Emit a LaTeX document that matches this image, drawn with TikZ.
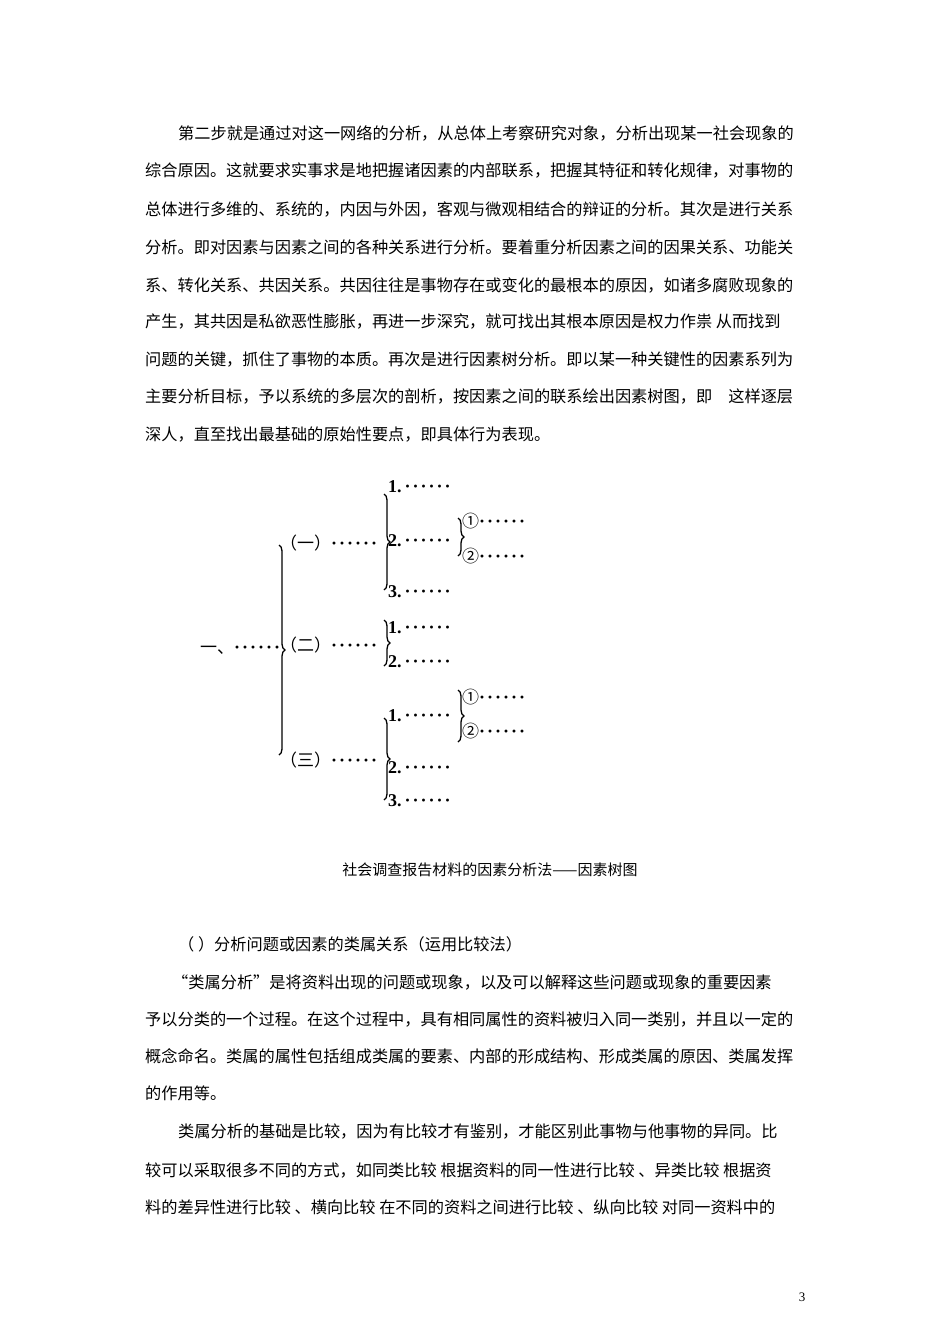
\documentclass[tikz,border=0pt]{standalone}
\usepackage{fontspec}
\setmainfont{Liberation Serif}
\newfontfamily\cjk{Noto Sans CJK SC}
\usetikzlibrary{decorations.pathreplacing}
\newcommand\dd{{\fontspec{Liberation Serif}\bfseries\fontsize{18}{18}\selectfont ·\kern2pt·\kern2pt·\kern2pt·\kern2pt·\kern2pt·}}
\begin{document}
\begin{tikzpicture}[x=1pt,y=-1pt,
  line/.style={anchor=west,inner sep=0pt,font=\cjk\fontsize{16.2}{18}\selectfont},
  tn/.style={anchor=west,inner sep=0pt,font=\cjk\fontsize{17}{18}\selectfont},
  num/.style={anchor=west,inner sep=0pt,font=\bfseries\fontsize{18}{18}\selectfont},
  br/.style={decorate,decoration={brace,amplitude=6pt,mirror},line width=1.3pt}]
\useasboundingbox (0,0) rectangle (950,1344);
\fill[white] (0,0) rectangle (950,1344);
% paragraph 1
\node[line] (p1) at (178,133) {第二步就是通过对这一网络的分析，从总体上考察研究对象，分析出现某一社会现象的};
\node[line] (p2) at (145,171) {综合原因。这就要求实事求是地把握诸因素的内部联系，把握其特征和转化规律，对事物的};
\node[line] (p3) at (145,209) {总体进行多维的、系统的，内因与外因，客观与微观相结合的辩证的分析。其次是进行关系};
\node[line] (p4) at (145,247) {分析。即对因素与因素之间的各种关系进行分析。要着重分析因素之间的因果关系、功能关};
\node[line] (p5) at (145,285) {系、转化关系、共因关系。共因往往是事物存在或变化的最根本的原因，如诸多腐败现象的};
\node[line] (p6) at (145,322) {产生，其共因是私欲恶性膨胀，再进一步深究，就可找出其根本原因是权力作祟\ 从而找到};
\node[line] (p7) at (145,360) {问题的关键，抓住了事物的本质。再次是进行因素树分析。即以某一种关键性的因素系列为};
\node[line] (p8) at (145,397) {主要分析目标，予以系统的多层次的剖析，按因素之间的联系绘出因素树图，即\quad 这样逐层};
\node[line] (p9) at (145,435) {深人，直至找出最基础的原始性要点，即具体行为表现。};
% tree
\node[tn] (r) at (200,650) {一、\dd};
\node[tn] (a) at (280,543) {（一）\dd};
\node[tn] (b) at (280,645) {（二）\dd};
\node[tn] (c) at (280,760) {（三）\dd};
\draw[br] (279,755) -- (279,545);
\node[num] (a1) at (388,487) {1.\,\dd};
\node[num] (a2) at (388,541) {2.\,\dd};
\node[num] (a3) at (388,592) {3.\,\dd};
\draw[br] (384,590) -- (384,494);
\node[tn] (a21) at (462,521) {①\dd};
\node[tn] (a22) at (462,556) {②\dd};
\draw[br] (458,556) -- (458,518);
\node[num] (b1) at (388,628) {1.\,\dd};
\node[num] (b2) at (388,662) {2.\,\dd};
\draw[br] (384,666) -- (384,620);
\node[num] (c1) at (388,716) {1.\,\dd};
\node[num] (c2) at (388,768) {2.\,\dd};
\node[num] (c3) at (388,801) {3.\,\dd};
\draw[br] (384,800) -- (384,718);
\node[tn] (c11) at (462,697) {①\dd};
\node[tn] (c12) at (462,731) {②\dd};
\draw[br] (458,742) -- (458,690);
% caption
\node[inner sep=0pt,font=\cjk\fontsize{15}{18}\selectfont] (cap) at (490,870) {社会调查报告材料的因素分析法——因素树图};
% paragraph 2
\node[line] (q1) at (178,944) {（\ ）分析问题或因素的类属关系（运用比较法）};
\node[line] (q2) at (172,982) {“类属分析”是将资料出现的问题或现象，以及可以解释这些问题或现象的重要因素};
\node[line] (q3) at (145,1019) {予以分类的一个过程。在这个过程中，具有相同属性的资料被归入同一类别，并且以一定的};
\node[line] (q4) at (145,1056) {概念命名。类属的属性包括组成类属的要素、内部的形成结构、形成类属的原因、类属发挥};
\node[line] (q5) at (145,1093) {的作用等。};
\node[line] (q6) at (178,1132) {类属分析的基础是比较，因为有比较才有鉴别，才能区别此事物与他事物的异同。比};
\node[line] (q7) at (145,1170) {较可以采取很多不同的方式，如同类比较\ 根据资料的同一性进行比较\ 、异类比较\ 根据资};
\node[line] (q8) at (145,1207) {料的差异性进行比较\ 、横向比较\ 在不同的资料之间进行比较\ 、纵向比较\ 对同一资料中的};
\node[inner sep=0pt,font=\fontsize{13}{13}\selectfont] (pg) at (802,1297) {3};
\end{tikzpicture}
\end{document}
